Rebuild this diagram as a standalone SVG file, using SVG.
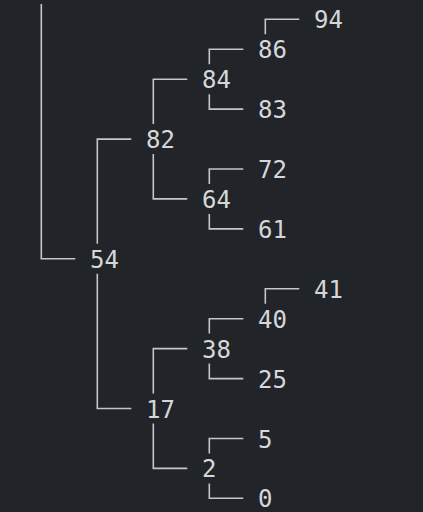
<svg xmlns="http://www.w3.org/2000/svg" width="423" height="512" viewBox="0 0 423 512">
<style>
.bg{fill:#212529}
.c path{fill:none;stroke:#c4c6c8;stroke-width:1.6;stroke-linecap:butt;stroke-linejoin:miter}
text{font-family:"DejaVu Sans Mono","Liberation Mono",monospace;font-size:24px;fill:#d6d7d8}
</style>
<rect class="bg" x="0" y="0" width="423" height="512"/>
<g id="connectors" class="c">
<path d="M41.3,4 V258.8 H75.3"/>
<path d="M97.3,243.8 V139.1 H131.3"/>
<path d="M97.3,273.8 V408.5 H131.3"/>
<path d="M153.3,124.1 V79.2 H187.3"/>
<path d="M153.3,154.1 V198.9 H187.3"/>
<path d="M209.3,64.2 V49.2 H243.3"/>
<path d="M209.3,94.2 V109.1 H243.3"/>
<path d="M265.3,34.2 V19.3 H299.3"/>
<path d="M209.3,183.9 V169.0 H243.3"/>
<path d="M209.3,213.9 V228.9 H243.3"/>
<path d="M153.3,393.5 V348.6 H187.3"/>
<path d="M153.3,423.5 V468.4 H187.3"/>
<path d="M209.3,333.6 V318.7 H243.3"/>
<path d="M209.3,363.6 V378.6 H243.3"/>
<path d="M265.3,303.7 V288.8 H299.3"/>
<path d="M209.3,453.4 V438.5 H243.3"/>
<path d="M209.3,483.4 V498.3 H243.3"/>
</g>
<g id="n94"><text x="314" y="28.3">94</text></g>
<g id="n86"><text x="258" y="58.2">86</text></g>
<g id="n84"><text x="202" y="88.2">84</text></g>
<g id="n83"><text x="258" y="118.1">83</text></g>
<g id="n82"><text x="146" y="148.1">82</text></g>
<g id="n72"><text x="258" y="178.0">72</text></g>
<g id="n64"><text x="202" y="207.9">64</text></g>
<g id="n61"><text x="258" y="237.9">61</text></g>
<g id="n54"><text x="90" y="267.8">54</text></g>
<g id="n41"><text x="314" y="297.8">41</text></g>
<g id="n40"><text x="258" y="327.7">40</text></g>
<g id="n38"><text x="202" y="357.6">38</text></g>
<g id="n25"><text x="258" y="387.6">25</text></g>
<g id="n17"><text x="146" y="417.5">17</text></g>
<g id="n5"><text x="258" y="447.5">5</text></g>
<g id="n2"><text x="202" y="477.4">2</text></g>
<g id="n0"><text x="258" y="507.3">0</text></g>
</svg>
